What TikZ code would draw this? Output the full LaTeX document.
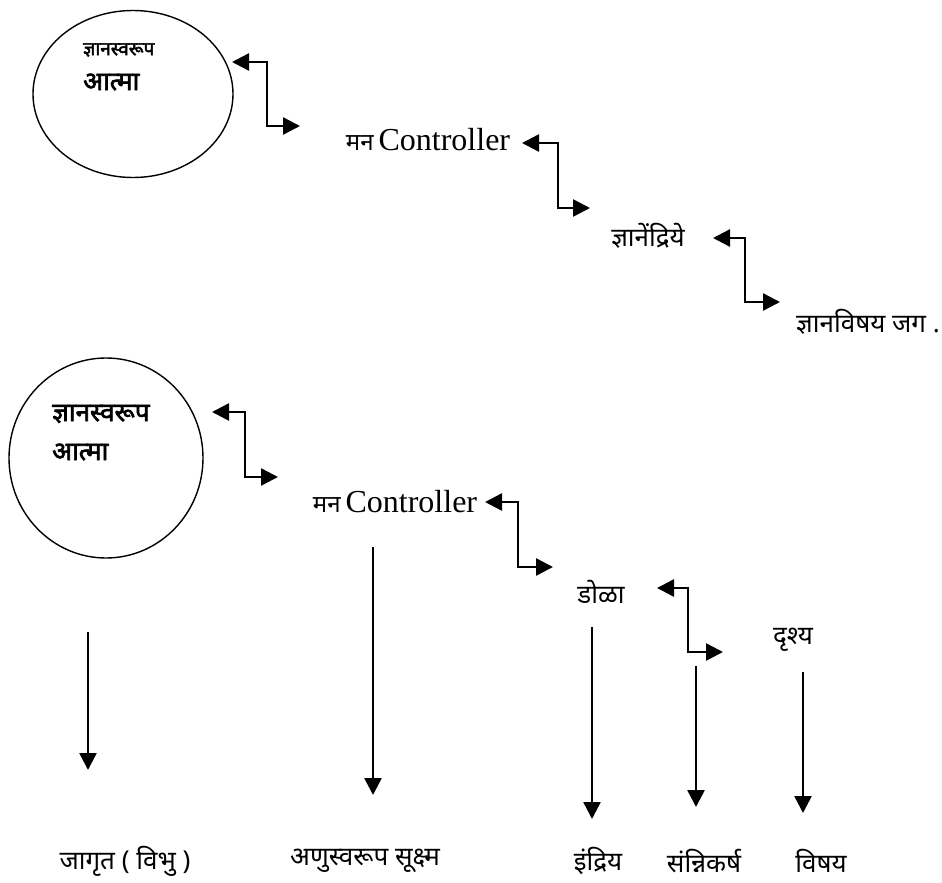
\documentclass[tikz,border=0pt]{standalone}
\usepackage{fontspec}
\usepackage{tikz}
\usetikzlibrary{shapes.geometric,arrows.meta}

\newfontfamily\devfont[Script=Devanagari]{Noto Sans}
\newfontfamily\devboldfont[Script=Devanagari, FakeBold=2.4]{Noto Sans}
\newfontfamily\romfont{Liberation Serif}

\tikzset{
    dev/.style={font=\devfont\fontsize{26}{30}\selectfont, inner sep=0pt},
    devbold/.style={font=\devboldfont\fontsize{#1}{#1}\selectfont, inner sep=0pt, anchor=west},
    mind/.style={inner sep=0pt},
    link/.style={line width=2.5pt, {Triangle[length=17pt,width=17pt]}-{Triangle[length=17pt,width=17pt]}},
    down/.style={line width=2.5pt, -{Triangle[length=17pt,width=17pt]}},
}

\begin{document}
\begin{tikzpicture}[x=1pt, y=-1pt]
    \useasboundingbox (0, 0) rectangle (942, 883);

    % upper chain
    \node[ellipse, draw, line width=1.4pt, minimum width=200pt, minimum height=167pt]
        (soul1) at (133, 94) {};
    \node[devbold=19] (soul1a) at (83, 50) {ज्ञानस्वरूप};
    \node[devbold=26] (soul1b) at (83, 82) {आत्मा};
    \node[mind] (mind1) at (428, 140)
        {{\devfont\fontsize{24}{28}\selectfont मन}\hspace{5pt}{\romfont\fontsize{32}{36}\selectfont Controller}};
    \node[dev] (sense1) at (648, 236) {ज्ञानेंद्रिये};
    \node[dev] (world1) at (868, 322) {ज्ञानविषय जग .};

    \coordinate (s1) at (232, 62);
    \coordinate (m1) at (300, 126);
    \coordinate (m1r) at (522, 143);
    \coordinate (e1) at (590, 208);
    \coordinate (e1r) at (713, 238);
    \coordinate (w1) at (780, 302);
    \draw[link] (s1) -| (267, 94) |- (m1);
    \draw[link] (m1r) -| (558, 175) |- (e1);
    \draw[link] (e1r) -| (745, 270) |- (w1);

    % lower chain
    \node[ellipse, draw, line width=1.4pt, minimum width=194pt, minimum height=200pt]
        (soul2) at (106, 458) {};
    \node[devbold=26] (soul2a) at (52, 414) {ज्ञानस्वरूप};
    \node[devbold=26] (soul2b) at (52, 452) {आत्मा};
    \node[mind] (mind2) at (395, 502)
        {{\devfont\fontsize{24}{28}\selectfont मन}\hspace{5pt}{\romfont\fontsize{32}{36}\selectfont Controller}};
    \node[dev] (eye) at (601, 592) {डोळा};
    \node[dev] (seen) at (793, 640) {दृश्य};

    \coordinate (s2) at (212, 412);
    \coordinate (m2) at (278, 477);
    \coordinate (m2r) at (485, 502);
    \coordinate (e2) at (553, 567);
    \coordinate (e2r) at (657, 588);
    \coordinate (w2) at (723, 652);
    \draw[link] (s2) -| (245, 444) |- (m2);
    \draw[link] (m2r) -| (518, 535) |- (e2);
    \draw[link] (e2r) -| (688, 620) |- (w2);

    % bottom labels
    \node[dev] (awake) at (125, 861) {जागृत ( विभु )};
    \node[dev] (atomic) at (365, 861) {अणुस्वरूप सूक्ष्म};
    \node[dev] (organ) at (598, 861) {इंद्रिय};
    \node[dev] (contact) at (704, 861) {संन्निकर्ष};
    \node[dev] (object) at (821, 861) {विषय};

    \coordinate (t1) at (88, 632);
    \coordinate (b1) at (88, 770);
    \coordinate (t2) at (373, 547);
    \coordinate (b2) at (373, 795);
    \coordinate (t3) at (592, 627);
    \coordinate (b3) at (592, 819);
    \coordinate (t4) at (696, 666);
    \coordinate (b4) at (696, 807);
    \coordinate (t5) at (803, 672);
    \coordinate (b5) at (803, 813);
    \foreach \i in {1,...,5}
        \draw[down] (t\i) -- (b\i);
\end{tikzpicture}
\end{document}
